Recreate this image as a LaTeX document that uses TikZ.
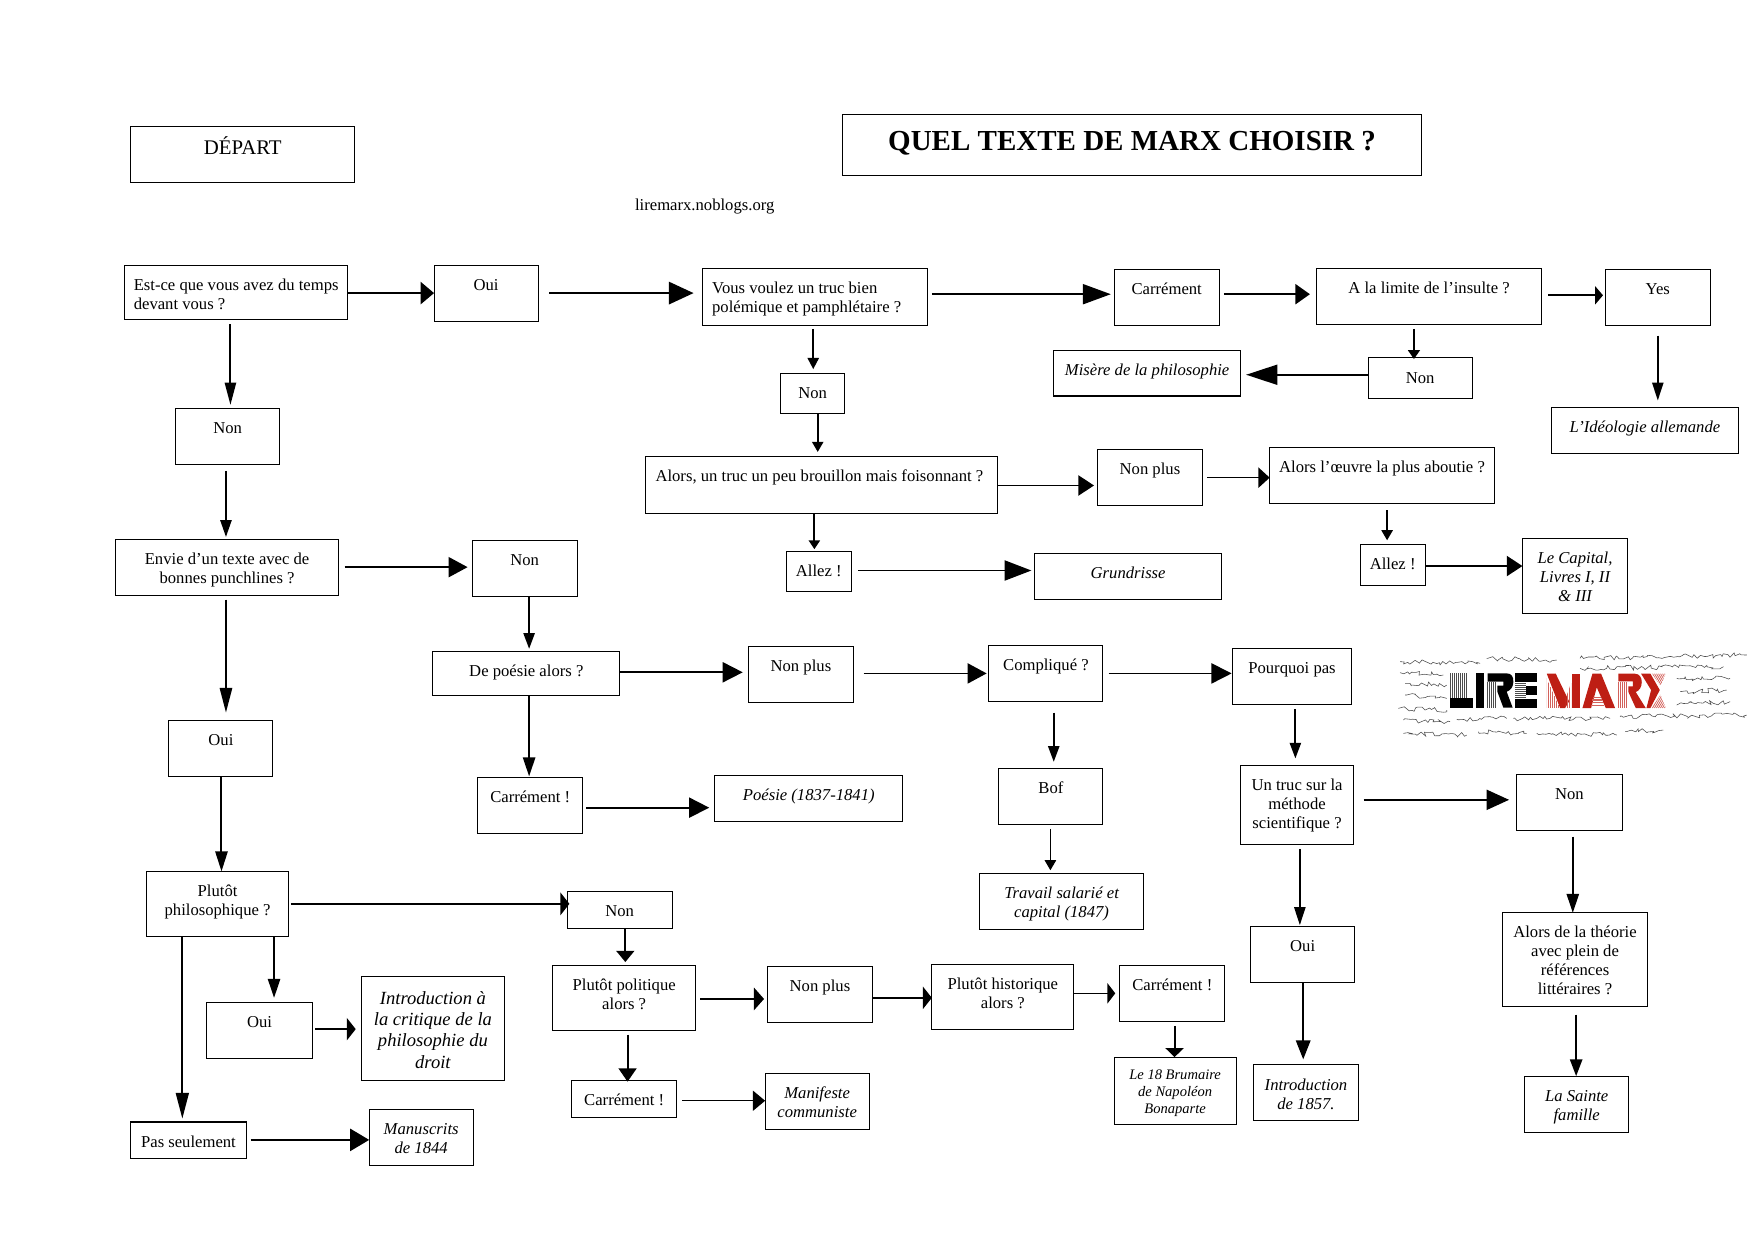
\documentclass[tikz,border=0pt]{standalone}
\usepackage{fontspec}
\setmainfont{Liberation Serif}
\usetikzlibrary{arrows.meta,decorations.pathmorphing}
\definecolor{marxred}{RGB}{190,30,20}
\newlength{\toppad}
\setlength{\toppad}{11.2pt}
\newcommand{\lefttxt}{\raggedright\leftskip=4.3pt}
\newcommand{\bigtxt}{\fontsize{8.3}{9.5}\selectfont\setlength{\toppad}{12.4pt}}
\newcommand{\smalltxt}{\fontsize{6.5}{7.6}\selectfont\setlength{\toppad}{9.8pt}}
\newcommand{\qbox}[7][\centering]{%
  \pgfmathsetlengthmacro{\bw}{(#5-#3)*0.5pt}%
  \pgfmathsetlengthmacro{\bh}{(#6-#4)*0.5pt}%
  \pgfmathsetmacro{\cx}{(#3+#5)/2}%
  \pgfmathsetmacro{\cy}{(#4+#6)/2}%
  \node[qbox] (#2) at (\cx,\cy) {\parbox[c][\bh][t]{\bw}{#1\rule{0pt}{\toppad}#7}};%
}
\tikzset{
  qbox/.style={draw,line width=0.45pt,inner sep=0pt,outer sep=0pt,font=\fontsize{7.44}{8.5}\selectfont},
  scrawl/.style={draw=black!70,line width=0.25pt,decorate,decoration={random steps,amplitude=1.1pt,segment length=1.3pt}}
}
\begin{document}
\begin{tikzpicture}[x=0.5pt,y=-0.5pt]
  \useasboundingbox (0,0) rectangle (1568,1109.4);
  \pgfmathsetseed{5}

  \qbox[\centering\fontsize{9.3}{10.5}\selectfont\setlength{\toppad}{12.6pt}]{depart}{117}{113}{317}{163}{DÉPART}
  \qbox[\centering\bfseries\fontsize{12.97}{15}\selectfont\setlength{\toppad}{16.2pt}]{titre}{753}{102}{1271}{157}{QUEL TEXTE DE MARX CHOISIR ?}
  \node[font=\fontsize{7.44}{8.5}\selectfont,inner sep=0pt] (site) at (630,185) {liremarx.noblogs.org};

  % premiere ligne
  \qbox[\lefttxt]{temps}{111}{237}{311}{286}{Est-ce que vous avez du temps\\devant vous ?}
  \qbox{ouiA}{388}{237}{481}{287}{Oui}
  \qbox[\lefttxt]{polem}{628}{240}{829}{291}{Vous voulez un truc bien\\polémique et pamphlétaire ?}
  \qbox{carrA}{996}{241}{1090}{291}{Carrément}
  \qbox{insulte}{1177}{240}{1378}{290}{A la limite de l’insulte ?}
  \qbox{yes}{1435}{241}{1529}{291}{Yes}
  \qbox[\centering\itshape]{misere}{942}{313}{1109}{354}{Misère de la philosophie}
  \qbox{nonB}{1223}{320}{1316}{356}{Non}
  \qbox[\centering\itshape]{ideo}{1387}{364}{1554}{405}{L’Idéologie allemande}
  \qbox{nonC}{698}{334}{755}{370}{Non}
  \qbox{brouillon}{577}{408}{892}{459}{Alors, un truc un peu brouillon mais foisonnant ?\hspace*{2pt}}
  \qbox{plusA}{981}{402}{1075}{452}{Non plus}
  \qbox{aboutie}{1135}{400}{1336}{450}{Alors l’œuvre la plus aboutie ?}
  \qbox{allezA}{703}{493}{761}{529}{Allez !}
  \qbox[\centering\itshape]{grund}{925}{495}{1092}{536}{Grundrisse}
  \qbox{allezB}{1216}{487}{1274}{523}{Allez !}
  \qbox[\centering\itshape]{capital}{1361}{481}{1455}{548}{Le Capital,\\Livres I, II\\\& III}

  % milieu
  \qbox{nonA}{157}{365}{250}{415}{Non}
  \qbox{punch}{103}{482}{303}{532}{Envie d’un texte avec de\\bonnes punchlines ?}
  \qbox{nonD}{422}{483}{516}{533}{Non}
  \qbox{poesie}{387}{582}{554}{622}{De poésie alors ?}
  \qbox{plusB}{669}{578}{763}{628}{Non plus}
  \qbox{complique}{884}{577}{986}{627}{Compliqué ?}
  \qbox{pourquoi}{1102}{580}{1208}{630}{Pourquoi pas}
  \qbox{ouiB}{151}{644}{244}{694}{Oui}
  \qbox{carrB}{427}{695}{521}{745}{Carrément !}
  \qbox[\centering\itshape]{vers}{639}{693}{807}{734}{Poésie (1837-1841)}
  \qbox{bof}{893}{687}{986}{737}{Bof}
  \qbox{methode}{1109}{684}{1210}{755}{Un truc sur la\\méthode\\scientifique ?}
  \qbox{nonE}{1356}{692}{1450}{742}{Non}

  % bas
  \qbox{philo}{131}{779}{258}{837}{Plutôt\\philosophique ?}
  \qbox{nonF}{507}{797}{601}{830}{Non}
  \qbox[\centering\itshape]{travail}{876}{781}{1022}{831}{Travail salarié et\\capital (1847)}
  \qbox{ouiC}{1118}{828}{1211}{878}{Oui}
  \qbox{refs}{1343}{816}{1473}{900}{Alors de la théorie\\avec plein de\\références\\littéraires ?}
  \qbox{polit}{494}{863}{622}{921}{Plutôt politique\\alors ?}
  \qbox{plusC}{686}{864}{780}{914}{Non plus}
  \qbox{histo}{833}{862}{960}{920}{Plutôt historique\\alors ?}
  \qbox{carrC}{1001}{863}{1095}{913}{Carrément !}
  \qbox{ouiD}{185}{896}{279}{946}{Oui}
  \qbox[\centering\itshape\bigtxt]{critique}{323}{873}{451}{966}{Introduction à\\la critique de la\\philosophie du\\droit}
  \qbox[\centering\itshape\smalltxt]{brumaire}{996}{945}{1105}{1005}{Le 18 Brumaire\\de Napoléon\\Bonaparte}
  \qbox[\centering\itshape]{intro}{1121}{952}{1214}{1002}{Introduction\\de 1857.}
  \qbox[\centering\itshape]{sainte}{1363}{962}{1456}{1012}{La Sainte\\famille}
  \qbox{carrD}{511}{966}{605}{999}{Carrément !}
  \qbox[\centering\itshape]{manif}{684}{960}{777}{1010}{Manifeste\\communiste}
  \qbox{pas}{117}{1003}{220}{1036}{Pas seulement}
  \qbox[\centering\itshape]{manus}{330}{992}{423}{1042}{Manuscrits\\de 1844}

  % fleches horizontales
  \foreach \a/\b/\y/\ga/\gb/\hl/\hw/\lw in {
    temps/ouiA/262/0/0/12/20/0.7, ouiA/polem/262/10/8/22/20/0.8,
    polem/carrA/263/4/3/25/18/0.7, carrA/insulte/263/4/6/13/18/0.8,
    insulte/yes/264/6/2/7/16/0.8, brouillon/plusA/434/0/3/14/18/0.8,
    plusA/aboutie/427/4/0/10/18/0.6, allezA/grund/510/6/3/24/18/0.8,
    allezB/capital/506/0/0/14/18/0.8, punch/nonD/507/5/4/17/18/0.7,
    poesie/plusB/601/0/5/18/18/0.8, plusB/complique/602/9/2/17/18/0.7,
    complique/pourquoi/602/5/1/18/18/0.7, carrB/vers/722/3/5/18/18/0.8,
    methode/nonE/715/9/7/20/18/0.6, philo/nonF/808/2/-2/8/20/0.9,
    ouiD/critique/920/3/5/8/20/0.6, pas/manus/1019/4/0/17/20/0.6,
    polit/plusC/893/4/3/9/20/0.8, plusC/histo/892/0/0/8/20/0.6,
    histo/carrC/888/0/4/7/18/0.6, carrD/manif/984/5/0/11/18/0.6}{
    \pgfmathsetmacro{\hlp}{\hl/2}
    \pgfmathsetmacro{\hwp}{\hw/2}
    \draw[line width=\lw pt,shorten <={\ga*0.5pt},shorten >={\gb*0.5pt},-{Triangle[length=\hlp pt,width=\hwp pt]}]
      (\a.east |- 0,\y) -- (\b.west |- 0,\y);
  }
  \draw[line width=0.7pt,shorten >=2.5pt,-{Triangle[length=14pt,width=9pt]}] (nonB.west |- 0,335) -- (misere.east |- 0,335);

  % fleches verticales
  \foreach \a/\b/\x/\ga/\gb/\hl/\hw/\lw in {
    temps/nonA/206/4/3/20/10/0.9, nonA/punch/202/6/2/15/10/0.8,
    punch/ouiB/202/4/7/22/11/0.8, ouiB/philo/198/0/0/18/11/0.9,
    philo/pas/163/0/3/23/11.5/0.9, philo/ouiD/245/0/4/17/11/0.8,
    nonD/poesie/473/0/2/14/10/0.8, poesie/carrB/473/0/1/17/11/0.8,
    nonF/polit/559/0/3/10/16/0.9, polit/carrD/561/4/-1/12/16/0.9,
    polem/nonC/727/3/4/10/10/0.8, nonC/brouillon/731/0/4/9/10/0.8,
    brouillon/allezA/728/0/2/8/10/0.9, insulte/nonB/1264/4/-1/8/10.5/0.9,
    yes/ideo/1482/9/6/16/10/0.8, aboutie/allezB/1240/6/4/9/10/0.8,
    complique/bof/942/10/6/14/10/0.8, bof/travail/939/4/3/9/10/0.8,
    pourquoi/methode/1158/4/6/14/10/0.9, methode/ouiC/1162/4/1/16/10/0.8,
    ouiC/intro/1165/0/5/17/13/0.8, nonE/refs/1406/6/0/17/11/0.8,
    refs/sainte/1409/7/0/15/11/0.8, carrC/brumaire/1050/4/0/8/16/0.9}{
    \pgfmathsetmacro{\hlp}{\hl/2}
    \pgfmathsetmacro{\hwp}{\hw/2}
    \draw[line width=\lw pt,shorten <={\ga*0.5pt},shorten >={\gb*0.5pt},-{Triangle[length=\hlp pt,width=\hwp pt]}]
      (\x,0 |- \a.south) -- (\x,0 |- \b.north);
  }

  % griffonnages du logo
  \begin{scope}[shift={(1233.7,563.2)},x=0.149pt,y=-0.149pt]
    \foreach \xa/\ya/\xb/\yb in {60/95/300/100,320/85/530/90,600/85/1100/75,60/128/190/135,600/115/1030/110,
      75/160/200/165,890/145/1050/145,75/195/200/205,900/185/1040/180,55/235/200/240,890/225/1050/215,
      70/270/210/275,230/268/380/265,400/265/690/265,720/260/1100/255,70/310/260/315,295/305/440/310,
      470/310/710/315,735/305/850/300}{
      \draw[scrawl] (\xa,\ya) -- (\xb,\yb);
    }
  \end{scope}

  % LIRE
  \begin{scope}[shift={(1287.3,594.5)},x=0.149pt,y=-0.149pt]
    \foreach \x in {30,36,...,78}{\draw[line width=0.35pt,black!70] (\x,25) -- (\x,100);}
    \fill (30,100) rectangle (100,128);
    \fill (108,25) rectangle (133,128);
    \foreach \x in {143,149,...,170}{\draw[line width=0.35pt,black!70] (\x,50) -- (\x,128);}
    \fill (143,25) -- (200,25) .. controls (215,25) and (220,35) .. (220,50) .. controls (220,65) and (212,76) .. (200,80) -- (218,128) -- (190,128) -- (172,80) -- (172,62) -- (190,62) -- (190,50) -- (143,50) -- cycle;
    \fill (225,25) rectangle (290,50);
    \fill (225,103) rectangle (290,128);
    \fill (258,63) rectangle (290,90);
    \foreach \y in {56,62,...,98}{\draw[line width=0.35pt,black!70] (225,\y) -- (258,\y);}
  \end{scope}

  % MARX
  \begin{scope}[shift={(1372.3,597.2)},x=0.149pt,y=-0.149pt]
    \begin{scope}
      \clip (35,30) -- (35,120) -- (75,120) -- cycle;
      \foreach \x in {35,41,...,75}{\draw[line width=0.35pt,marxred!70] (\x,17) -- (\x,120);}
    \end{scope}
    \fill[marxred] (35,17) -- (62,17) -- (102,100) -- (90,120) -- (75,120) -- cycle;
    \begin{scope}
      \clip (108,45) -- (108,120) -- (92,120) -- (92,90) -- cycle;
      \foreach \x in {92,98,...,110}{\draw[line width=0.35pt,marxred!70] (\x,17) -- (\x,120);}
    \end{scope}
    \fill[marxred] (112,17) -- (136,17) -- (136,120) -- (112,120) -- cycle;
    \fill[marxred] (142,120) -- (172,17) -- (198,17) -- (240,120) -- (212,120) -- (185,58) -- (168,120) -- cycle;
    \foreach \y/\xa/\xb in {88/174/197,96/172/200,104/170/204,112/168/208}{\draw[line width=0.6pt,marxred!70] (\xa,\y) -- (\xb,\y);}
    \foreach \x in {250,256,...,276}{\draw[line width=0.35pt,marxred!70] (\x,42) -- (\x,120);}
    \fill[marxred] (250,17) -- (300,17) .. controls (314,17) and (320,30) .. (320,42) .. controls (320,58) and (312,68) .. (302,72) -- (332,120) -- (302,120) -- (280,72) -- (280,55) -- (293,55) -- (293,40) -- (250,40) -- cycle;
    \fill[marxred] (318,17) -- (346,17) -- (374,66) -- (346,120) -- (334,120) -- (348,66) -- cycle;
    \begin{scope}
      \clip (350,17) -- (392,17) -- (376,52) -- cycle (376,80) -- (392,120) -- (350,120) -- cycle;
      \foreach \x in {340,346,...,470}{\draw[line width=0.35pt,marxred!70] (\x,17) -- (\x-60,120);}
    \end{scope}
  \end{scope}
\end{tikzpicture}
\end{document}
